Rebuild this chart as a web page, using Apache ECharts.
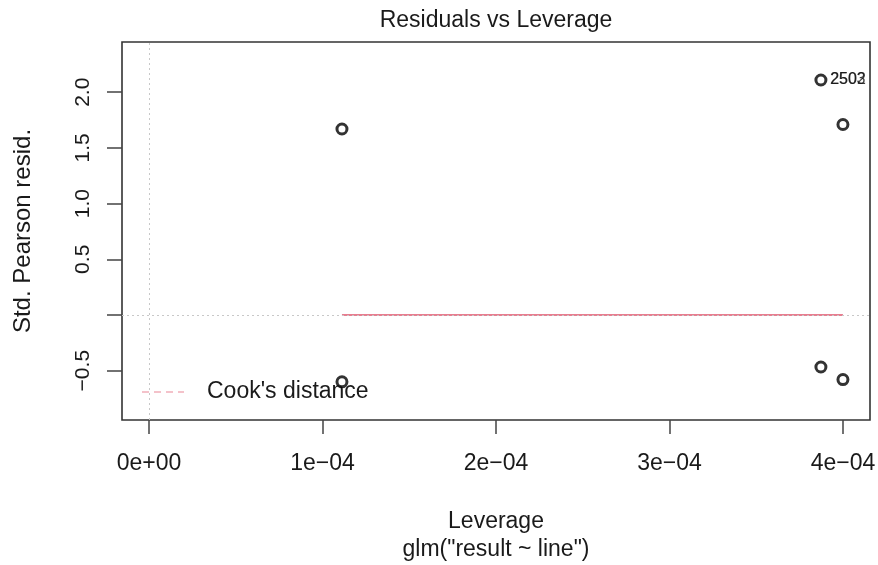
<!DOCTYPE html>
<html><head><meta charset="utf-8">
<script src="https://cdn.jsdelivr.net/npm/echarts@6/dist/echarts.min.js"></script>
<style>html,body{margin:0;padding:0;background:#fff}#c{width:878px;height:565px}</style>
</head><body><div id="c"></div>
<script>
// data
const leverage = [1.112e-4, 1.112e-4, 3.873e-4, 4.0e-4, 3.873e-4, 4.0e-4];
const residuals = [1.67, -0.60, 2.11, 1.71, -0.467, -0.58];
const pointLabels = ["", "", "2502", "", "", ""];
const overLabels = ["", "", "2503", "", "", ""];
const smoothX = [1.112e-4, 4.0e-4];
const smoothY = [0, 0];
const xTicks = [0, 1e-4, 2e-4, 3e-4, 4e-4];
const xTickLabels = ["0e+00", "1e\u221204", "2e\u221204", "3e\u221204", "4e\u221204"];
const yTicks = [-0.5, 0, 0.5, 1, 1.5, 2];
const yLabelTicks = [-0.5, 0.5, 1, 1.5, 2];
const yTickLabels = ["\u22120.5", "0.5", "1.0", "1.5", "2.0"];
const legendText = "Cook's distance";

const FONT = "Liberation Sans, Arial, sans-serif";
const chart = echarts.init(document.getElementById('c'), null, {renderer: 'canvas'});
const pts = leverage.map((x, i) => [x, residuals[i]]);
chart.setOption({
  backgroundColor: '#fff',
  animation: false,
  title: {text: 'Residuals vs Leverage', left: 496, textAlign: 'center', top: 9, padding: 0,
    textStyle: {fontFamily: FONT, fontSize: 23, fontWeight: 'normal', color: '#1a1a1a'}},
  grid: {left: 122, right: 8, top: 42, bottom: 145, outerBoundsMode: 'none', containLabel: false,
    show: true, borderColor: '#333', borderWidth: 1.6, backgroundColor: 'transparent'},
  xAxis: {type: 'value', min: -0.156e-4, max: 4.156e-4,
    name: 'Leverage\nglm("result ~ line")', nameLocation: 'middle', nameGap: 88,
    nameTextStyle: {fontFamily: FONT, fontSize: 23, color: '#1a1a1a', lineHeight: 28},
    axisLine: {show: false, onZero: false}, splitLine: {show: false},
    axisTick: {show: true, customValues: xTicks, length: 14, lineStyle: {color: '#444', width: 1.5}},
    axisLabel: {customValues: xTicks, fontFamily: FONT, fontSize: 23, color: '#1a1a1a', margin: 32,
      formatter: v => { const i = xTicks.findIndex(t => Math.abs(t - v) < 1e-9); return i >= 0 ? xTickLabels[i] : ''; }}
  },
  yAxis: {type: 'value', min: -0.943, max: 2.451,
    name: 'Std. Pearson resid.', nameLocation: 'middle', nameGap: 87, nameRotate: 90,
    nameTextStyle: {fontFamily: FONT, fontSize: 24, color: '#1a1a1a'},
    axisLine: {show: false, onZero: false}, splitLine: {show: false},
    axisTick: {show: true, customValues: yTicks, length: 15, lineStyle: {color: '#444', width: 1.5}},
    axisLabel: {customValues: yLabelTicks, rotate: 90, fontFamily: FONT, fontSize: 21, color: '#1a1a1a', margin: 28,
      formatter: v => { const i = yLabelTicks.findIndex(t => Math.abs(t - v) < 1e-9); return i >= 0 ? yTickLabels[i] : ''; }}
  },
  graphic: [
    {type: 'line', shape: {x1: 142, y1: 392, x2: 184, y2: 392}, silent: true,
      style: {stroke: '#DF536B', lineWidth: 1.2, lineDash: [7, 5], opacity: 0.7}},
    {type: 'text', left: 207, top: 380, silent: true,
      style: {text: legendText, font: '23px ' + FONT, fill: '#1a1a1a'}}
  ],
  series: [
    {type: 'line', name: 'smoother', data: smoothX.map((x, i) => [x, smoothY[i]]), showSymbol: false,
      lineStyle: {color: '#DF536B', width: 1.4}, z: 3,
      markLine: {silent: true, symbol: 'none', label: {show: false},
        lineStyle: {color: '#c8c8c8', type: [2, 3], width: 1},
        data: [{xAxis: 0}, {yAxis: 0}]}},
    {type: 'scatter', name: 'points', data: pts, symbol: 'circle', symbolSize: 10,
      itemStyle: {color: '#fff', borderColor: '#000', borderWidth: 3}, z: 5,
      label: {show: true, position: 'right', distance: 3, fontFamily: FONT, fontSize: 16, color: '#111',
        formatter: p => pointLabels[p.dataIndex]}},
    {type: 'scatter', name: 'overlap', data: pts, symbolSize: 0, z: 6,
      label: {show: true, position: 'right', distance: 9, fontFamily: FONT, fontSize: 16, color: '#111',
        formatter: p => overLabels[p.dataIndex]}}
  ]
});
</script></body></html>
